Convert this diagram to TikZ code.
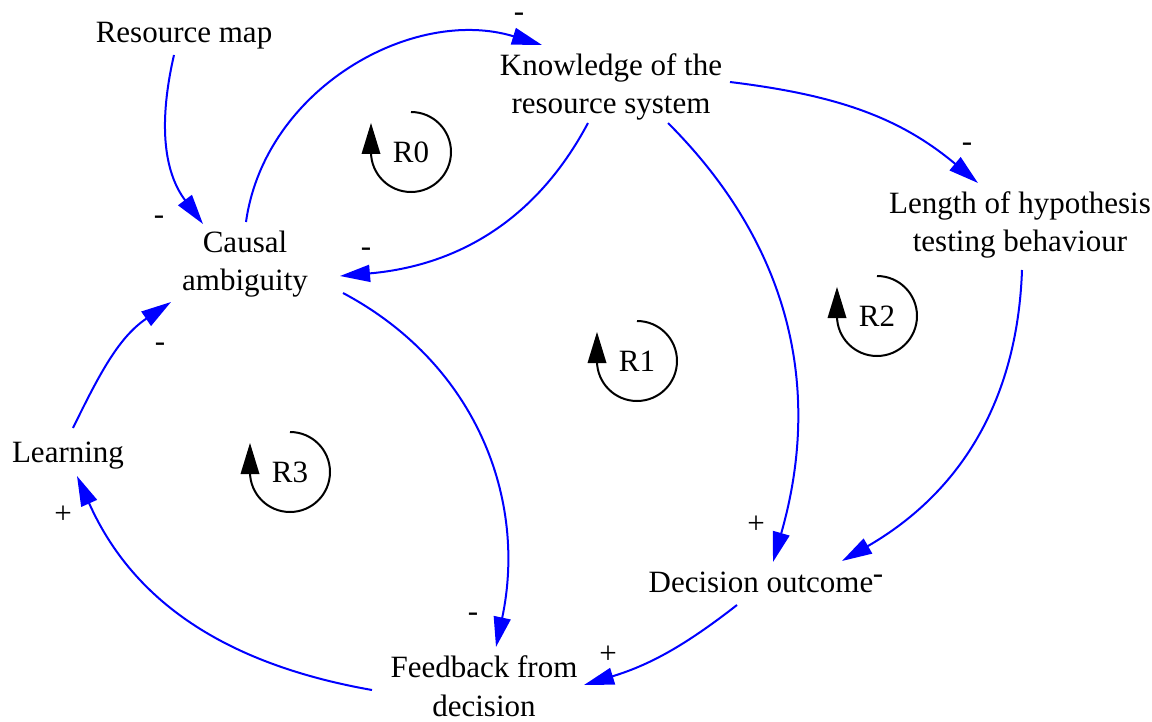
\documentclass[tikz,border=0pt]{standalone}
\usepackage{fontspec}
\setmainfont{Liberation Serif}
\usetikzlibrary{arrows.meta,calc}
\begin{document}
\begin{tikzpicture}[x=1pt,y=1pt,
  var/.style={font=\fontsize{31}{38.5}\selectfont, align=center, inner sep=0pt},
  pol/.style={font=\fontsize{31}{38.5}\selectfont, inner sep=0pt},
  link/.style={draw=blue, line width=2pt, -{Triangle[length=30pt,width=17pt]}},
  loopline/.style={draw=black, line width=2pt},
  looplabel/.style={font=\fontsize{31}{38.5}\selectfont, inner sep=0pt}]
\useasboundingbox (0,0) rectangle (1152,-722);
% variables
\node[var] (rm) at (184,-36) {Resource map};
\node[var] (kn) at (611,-87) {Knowledge of the\\resource system};
\node[var] (lh) at (1020,-225) {Length of hypothesis\\testing behaviour};
\node[var] (ca) at (245,-264) {Causal\\ambiguity};
\node[var] (le) at (68,-456) {Learning};
\node[var] (do) at (761,-582.5) {Decision outcome};
\node[var] (fb) at (484,-686) {Feedback from\\decision};
% links
\draw[link] ($(rm)+(-10,-19)$) to[out=-103,in=127] ($(ca)+(-42,40)$);
\draw[link] ($(ca)+(1,42)$) to[out=82,in=163] ($(kn)+(-69,42)$);
\draw[link] ($(kn)+(-23,-36)$) to[out=-118,in=5] ($(ca)+(95,-12)$);
\draw[link] ($(kn)+(119,5)$) to[out=-7,in=140] ($(lh)+(-42,42)$);
\draw[link] ($(kn)+(57,-36)$) to[out=-45,in=74] ($(do)+(12,20.5)$);
\draw[link] ($(lh)+(2,-45)$) to[out=-92,in=30] ($(do)+(81,21.5)$);
\draw[link] ($(ca)+(98,-29)$) to[out=-28,in=78] ($(fb)+(12,39)$);
\draw[link] ($(do)+(-24,-22.5)$) to[out=-142,in=17] ($(fb)+(100,1)$);
\draw[link] ($(fb)+(-112,-4)$) to[out=170,in=-66] ($(le)+(9,-20)$);
\draw[link] ($(le)+(5,28)$) to[out=64,in=214] ($(ca)+(-74,-38)$);
% polarities
\node[pol] (p1) at (159,-220) {-};
\node[pol] (p2) at (519,-17) {-};
\node[pol] (p3) at (366,-252) {-};
\node[pol] (p4) at (967,-147) {-};
\node[pol] (p5) at (756,-525) {+};
\node[pol] (p6) at (878,-579) {-};
\node[pol] (p7) at (473,-617) {-};
\node[pol] (p8) at (608,-655) {+};
\node[pol] (p9) at (63,-515) {+};
\node[pol] (p10) at (160,-347) {-};
% loops
\foreach \n/\t/\px/\py in {r0/R0/411/152, r1/R1/637/361, r2/R2/877/316, r3/R3/290/472}{
  \node[looplabel] (\n) at (\px,-\py) {\t};
  \draw[loopline] ($(\n)+(0,40)$) arc[start angle=90,end angle=-180,radius=40];
  \fill ($(\n)+(-49.5,-2)$) -- ($(\n)+(-30.5,-2)$) -- ($(\n)+(-40,29)$) -- cycle;
}
\end{tikzpicture}
\end{document}
